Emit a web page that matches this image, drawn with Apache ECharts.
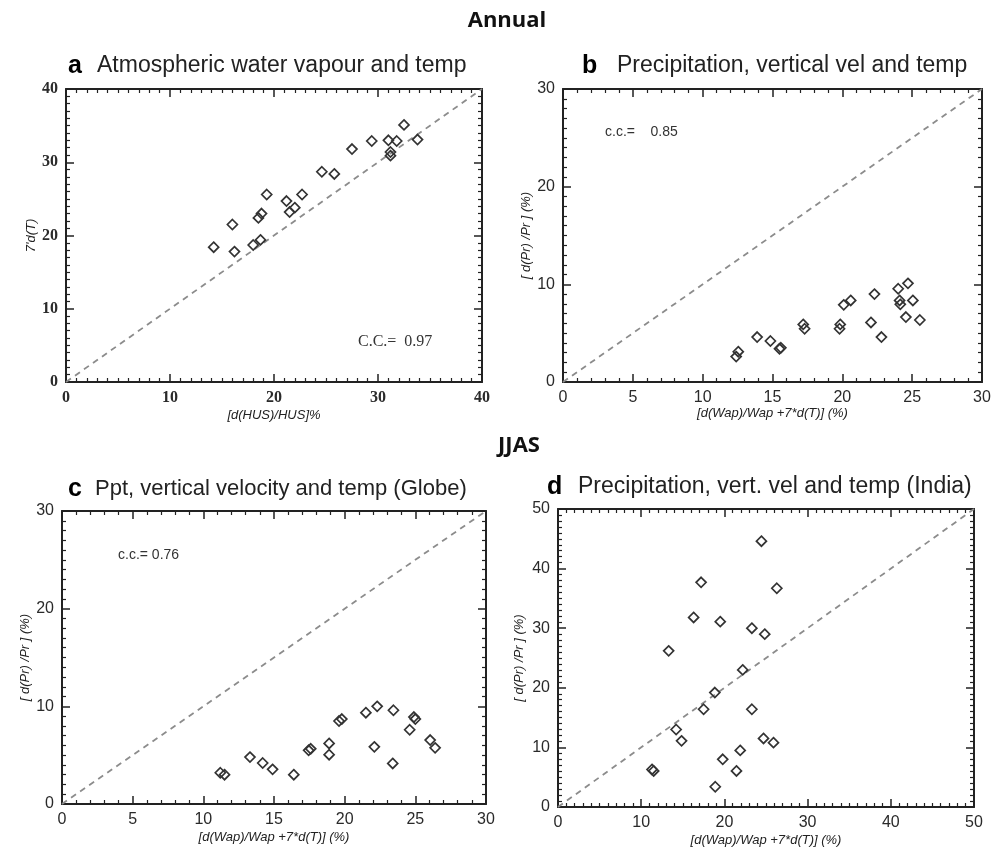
<!DOCTYPE html>
<html>
<head>
<meta charset="utf-8">
<script src="https://cdn.jsdelivr.net/npm/echarts@6/dist/echarts.min.js"></script>
<style>
  html, body { margin: 0; padding: 0; background: #fff; }
  #chart { width: 1003px; height: 849px; }
</style>
</head>
<body>
<div id="chart"></div>
<script>
// values
var annualHusX = [14.2, 16.0, 16.2, 18.0, 18.7, 18.5, 18.8, 19.3, 21.2, 21.5, 22.0, 22.7, 24.6, 25.8, 27.5, 29.4, 31.0, 31.8, 31.2, 31.2, 32.5, 33.8]
var annualTempY = [18.4, 21.5, 17.8, 18.7, 19.4, 22.4, 23.0, 25.6, 24.7, 23.2, 23.8, 25.6, 28.7, 28.4, 31.8, 32.9, 33.0, 32.9, 31.4, 30.9, 35.1, 33.1]

var annualWapX = [12.4, 12.55, 13.9, 14.85, 15.5, 15.6, 17.2, 17.3, 19.85, 19.8, 20.1, 20.6, 22.3, 22.05, 22.8, 24.0, 24.7, 24.1, 24.15, 25.05, 24.55, 25.55]
var annualPrY = [2.6, 3.1, 4.6, 4.2, 3.4, 3.5, 5.9, 5.45, 5.9, 5.45, 7.9, 8.35, 9.0, 6.1, 4.6, 9.55, 10.1, 8.35, 7.95, 8.35, 6.65, 6.35]

var globeWapX = [11.2, 11.5, 13.3, 14.2, 14.9, 16.4, 17.45, 17.6, 18.9, 18.9, 19.6, 19.8, 21.5, 22.3, 22.1, 23.45, 23.4, 24.6, 24.9, 25.0, 26.05, 26.4]
var globePrY = [3.2, 3.0, 4.8, 4.2, 3.55, 3.0, 5.5, 5.65, 6.2, 5.05, 8.5, 8.7, 9.35, 10.0, 5.85, 9.6, 4.15, 7.6, 8.9, 8.7, 6.55, 5.75]

var indiaWapX = [24.45, 17.2, 26.3, 16.3, 19.5, 23.3, 24.85, 13.3, 22.2, 18.85, 17.5, 23.3, 14.2, 14.85, 24.7, 25.9, 21.9, 19.8, 21.45, 11.3, 11.5, 18.9]
var indiaPrY = [44.6, 37.7, 36.7, 31.8, 31.1, 30.0, 29.0, 26.2, 23.0, 19.2, 16.4, 16.4, 13.0, 11.1, 11.5, 10.8, 9.5, 8.0, 6.05, 6.3, 6.05, 3.4]

// axis ranges (max, step) per panel
var axisMax = [40, 30, 30, 50]
var axisStep = [10, 10, 10, 10]
var xStep = [10, 5, 5, 10]
var ccLabels = ['C.C.=  0.97', 'c.c.=    0.85', 'c.c.= 0.76']

var SANS = '"Liberation Sans", Arial, sans-serif'
var SERIF = '"Liberation Serif", "Times New Roman", serif'

var panels = [
  { grid: { left: 66, top: 89, width: 416, height: 293 }, xs: annualHusX, ys: annualTempY,
    xName: '[d(HUS)/HUS]%', yName: "7'd(T)", font: SERIF, weight: 'bold', xGap: 27, yGap: 27, xMinor: 10, yMinor: 10 },
  { grid: { left: 563, top: 89, width: 419, height: 293 }, xs: annualWapX, ys: annualPrY,
    xName: '[d(Wap)/Wap +7*d(T)] (%)', yName: '[ d(Pr) /Pr ] (%)', font: SANS, weight: 'normal', xGap: 22, yGap: 30, xMinor: 5, yMinor: 10 },
  { grid: { left: 62, top: 511, width: 424, height: 293 }, xs: globeWapX, ys: globePrY,
    xName: '[d(Wap)/Wap +7*d(T)] (%)', yName: '[ d(Pr) /Pr ] (%)', font: SANS, weight: 'normal', xGap: 27, yGap: 28, xMinor: 5, yMinor: 10 },
  { grid: { left: 558, top: 509, width: 416, height: 298 }, xs: indiaWapX, ys: indiaPrY,
    xName: '[d(Wap)/Wap +7*d(T)] (%)', yName: '[ d(Pr) /Pr ] (%)', font: SANS, weight: 'normal', xGap: 27, yGap: 32, xMinor: 10, yMinor: 10 }
]

function makeAxis (gi, pos, max, step, minor, p, withLabel) {
  var ax = {
    type: 'value',
    gridIndex: gi,
    position: pos,
    min: 0,
    max: max,
    interval: step,
    axisLine: { show: true, onZero: false, lineStyle: { color: '#222', width: 2 } },
    axisTick: { show: true, inside: true, length: 8, lineStyle: { color: '#222', width: 1.5 } },
    minorTick: { show: true, splitNumber: minor, length: 4, lineStyle: { color: '#222', width: 1.2 } },
    splitLine: { show: false },
    minorSplitLine: { show: false },
    axisLabel: { show: withLabel, margin: 8, color: '#2a2a2a', fontSize: 16, fontWeight: p.weight, fontFamily: p.font }
  }
  if (withLabel) {
    var isX = pos === 'bottom'
    ax.name = isX ? p.xName : p.yName
    ax.nameLocation = 'middle'
    ax.nameGap = isX ? p.xGap : p.yGap
    ax.nameTextStyle = { fontSize: 13, fontStyle: 'italic', color: '#222', fontFamily: SANS }
  }
  return ax
}

var grids = []
var xAxes = []
var yAxes = []
var series = []

for (var i = 0; i < panels.length; i++) {
  var p = panels[i]
  var m = axisMax[i]
  grids.push(p.grid)
  xAxes.push(makeAxis(i, 'bottom', m, xStep[i], p.xMinor, p, true))
  xAxes.push(makeAxis(i, 'top', m, xStep[i], p.xMinor, p, false))
  yAxes.push(makeAxis(i, 'left', m, axisStep[i], p.yMinor, p, true))
  yAxes.push(makeAxis(i, 'right', m, axisStep[i], p.yMinor, p, false))
  series.push({
    type: 'line',
    xAxisIndex: i * 2,
    yAxisIndex: i * 2,
    data: [[0, 0], [m, m]],
    symbol: 'none',
    silent: true,
    z: 1,
    lineStyle: { type: [6, 5], color: '#8c8c8c', width: 1.8 }
  })
  var pts = []
  for (var k = 0; k < p.xs.length; k++) {
    pts.push([p.xs[k], p.ys[k]])
  }
  series.push({
    type: 'scatter',
    xAxisIndex: i * 2,
    yAxisIndex: i * 2,
    data: pts,
    symbol: 'diamond',
    symbolSize: 10,
    z: 3,
    itemStyle: { color: 'rgba(0,0,0,0)', borderColor: '#333', borderWidth: 1.7, opacity: 1 }
  })
}

function txt (x, y, s, font, color, align) {
  return {
    type: 'text',
    x: x,
    y: y,
    style: { text: s, font: font, fill: color || '#222', align: align || 'left', verticalAlign: 'middle' }
  }
}

var graphics = [
  txt(507, 21, 'Annual', 'bold 22px "Open Sans", sans-serif', '#111', 'center'),
  txt(519, 446, 'JJAS', 'bold 22px "Open Sans", sans-serif', '#111', 'center'),
  txt(68, 66, 'a', 'bold 25px ' + SANS, '#000'),
  txt(97, 66, 'Atmospheric water vapour and temp', '23px ' + SANS, '#222'),
  txt(582, 66, 'b', 'bold 25px ' + SANS, '#000'),
  txt(617, 66, 'Precipitation, vertical vel and temp', '23px ' + SANS, '#222'),
  txt(68, 489, 'c', 'bold 25px ' + SANS, '#000'),
  txt(95, 489, 'Ppt, vertical velocity and temp (Globe)', '22px ' + SANS, '#222'),
  txt(547, 487, 'd', 'bold 25px ' + SANS, '#000'),
  txt(578, 487, 'Precipitation, vert. vel and temp (India)', '23px ' + SANS, '#222'),
  txt(358, 342, ccLabels[0], '16px ' + SERIF, '#333'),
  txt(605, 132, ccLabels[1], '14px ' + SANS, '#333'),
  txt(118, 555, ccLabels[2], '14px ' + SANS, '#333')
]

var myChart = echarts.init(document.getElementById('chart'))
myChart.setOption({
  backgroundColor: '#fff',
  animation: false,
  grid: grids,
  xAxis: xAxes,
  yAxis: yAxes,
  series: series,
  graphic: graphics
})
</script>
</body>
</html>
